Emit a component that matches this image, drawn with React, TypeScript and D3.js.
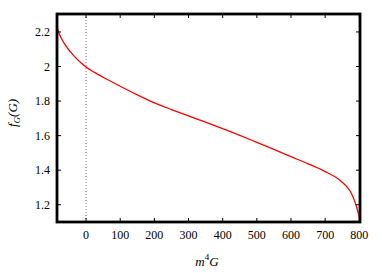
import React from "react";
import * as d3 from "d3";

const xValues = [-85, -80, -70, -60, -45, -30, -15, 0, 25, 50, 100, 150, 200, 250, 300, 350, 400, 450, 500, 550, 600, 650, 700, 730, 750, 765, 775, 785, 792, 797, 800, 802];
const yValues = [2.23, 2.197, 2.155, 2.122, 2.083, 2.05, 2.022, 1.997, 1.966, 1.938, 1.886, 1.836, 1.79, 1.751, 1.714, 1.678, 1.641, 1.602, 1.561, 1.52, 1.478, 1.437, 1.392, 1.36, 1.33, 1.3, 1.272, 1.228, 1.187, 1.152, 1.125, 1.102];
const xTicks = [0, 100, 200, 300, 400, 500, 600, 700, 800];
const yTicks = [1.2, 1.4, 1.6, 1.8, 2, 2.2];

export default function App() {
  const W = 382, H = 273;
  const L = 57, R = 360, T = 14, B = 222;
  const x = d3.scaleLinear().domain([-85, 802]).range([L, R]);
  const y = d3.scaleLinear().domain([1.1, 2.304]).range([B, T]);
  const pts = xValues.map((v, i) => [v, yValues[i]] as [number, number]);
  const line = d3.line<[number, number]>().x(d => x(d[0])).y(d => y(d[1])).curve(d3.curveMonotoneX);
  const font = "'Liberation Serif', 'DejaVu Serif', serif";
  return (
    <svg width={W} height={H} style={{ position: "absolute", left: 0, top: 0 }} fontFamily={font}>
      <rect width={W} height={H} fill="white" />
      <line x1={x(0)} x2={x(0)} y1={T} y2={B} stroke="#777" strokeWidth={1} strokeDasharray="1,2" />
      <path d={line(pts) || ""} fill="none" stroke="red" strokeWidth={1.3} />
      {xTicks.map(t => (
        <g key={"x" + t}>
          <line x1={x(t)} x2={x(t)} y1={B} y2={B - 4} stroke="black" strokeWidth={1} />
          <line x1={x(t)} x2={x(t)} y1={T} y2={T + 4} stroke="black" strokeWidth={1} />
          <text x={x(t)} y={239} fontSize={12} textAnchor="middle">{t}</text>
        </g>
      ))}
      {yTicks.map(t => (
        <g key={"y" + t}>
          <line x1={L} x2={L + 4} y1={y(t)} y2={y(t)} stroke="black" strokeWidth={1} />
          <line x1={R} x2={R - 4} y1={y(t)} y2={y(t)} stroke="black" strokeWidth={1} />
          <text x={50} y={y(t) + 4} fontSize={12} textAnchor="end">{t}</text>
        </g>
      ))}
      <rect x={L} y={T} width={R - L} height={B - T} fill="none" stroke="black" strokeWidth={2.8} />
      <text x={207} y={266} fontSize={13} textAnchor="middle" fontStyle="italic">
        m<tspan dy={-6} fontSize={9} fontStyle="normal">4</tspan><tspan dy={6}>G</tspan>
      </text>
      <text transform="translate(17,113) rotate(-90)" fontSize={13} textAnchor="middle" fontStyle="italic">
        f<tspan dy={3} fontSize={9}>G</tspan><tspan dy={-3}>(G)</tspan>
      </text>
    </svg>
  );
}
